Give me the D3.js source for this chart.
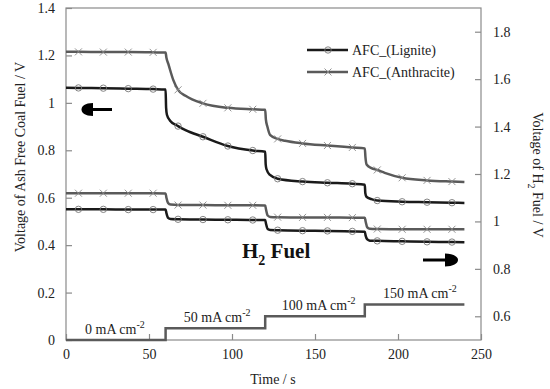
<!DOCTYPE html>
<html><head><meta charset="utf-8">
<script src="https://cdn.jsdelivr.net/npm/d3@7"></script>
<style>body{margin:0;background:#fff}svg{display:block}text{font-family:"Liberation Serif","Times New Roman",serif}</style>
</head><body><svg id="c" width="550" height="389"></svg>
<script>
// ---- data ----
const timeTicks = [0, 50, 100, 150, 200, 250];
const leftTicks = [0, 0.2, 0.4, 0.6, 0.8, 1.0, 1.2, 1.4];
const rightTicks = [0.6, 0.8, 1.0, 1.2, 1.4, 1.6, 1.8];

const afcLigniteT = [0,7.5,22.5,37.5,52.5,60, 60.3,60.8,62.7,67.5,72,82.5,97.5,112.5,120, 120.3,120.8,122.9,127.5,142.5,157.5,172.5,180, 180.3,181,184,187.5,202.5,217.5,232.5,240];
const afcLigniteV = [1.064,1.063,1.062,1.060,1.058,1.056, 0.98,0.95,0.925,0.902,0.885,0.857,0.818,0.799,0.794, 0.74,0.72,0.696,0.68,0.668,0.663,0.659,0.655, 0.62,0.604,0.594,0.588,0.583,0.581,0.579,0.578];

const afcAnthraciteT = [0,7.5,22.5,37.5,52.5,60, 60.5,61.6,64.6,67.5,72,82.5,97.5,112.5,120, 120.4,121.3,122.9,127.5,132,142.5,157.5,172.5,180, 180.4,181.1,184,187.5,192,202.5,217.5,232.5,240];
const afcAnthraciteV = [1.215,1.215,1.214,1.214,1.213,1.212, 1.19,1.165,1.097,1.055,1.03,0.998,0.979,0.973,0.971, 0.93,0.9,0.865,0.848,0.84,0.829,0.820,0.812,0.808, 0.77,0.74,0.725,0.717,0.705,0.684,0.673,0.668,0.666];

const h2T = [0,7.5,22.5,37.5,52.5,60, 60.5,61.5,63,67.5,82.5,97.5,112.5,120, 120.5,121.5,123,127.5,142.5,157.5,172.5,180, 180.5,181.5,183,187.5,202.5,217.5,232.5,240];
const h2AnthraciteV = [1.119,1.119,1.119,1.119,1.119,1.118, 1.10,1.078,1.071,1.069,1.069,1.068,1.068,1.067, 1.05,1.025,1.019,1.018,1.017,1.017,1.016,1.016, 1.0,0.975,0.969,0.968,0.967,0.967,0.967,0.967];
const h2LigniteV = [1.051,1.051,1.051,1.050,1.050,1.050, 1.035,1.015,1.010,1.009,1.008,1.007,1.006,1.006, 0.99,0.968,0.964,0.963,0.961,0.960,0.958,0.957, 0.94,0.924,0.919,0.918,0.916,0.914,0.913,0.912];

const currentT = [0, 60, 60, 120, 120, 180, 180, 240];
const currentV = [0, 0, 0.05, 0.05, 0.10, 0.10, 0.15, 0.15];
const currentLabels = ["0", "50", "100", "150"];
const currentLabelT = [11.5, 71, 130, 191];

const legendNames = ["AFC_(Lignite)", "AFC_(Anthracite)"];

// ---- layout ----
const svg = d3.select("#c");
const L = 66, R = 481, T = 8, B = 340;
const x = d3.scaleLinear().domain([0, 250]).range([L, R]);
const yL = d3.scaleLinear().domain([0, 1.4]).range([B, T]);
const yR = d3.scaleLinear().domain([0.5, 1.9]).range([B, T]);
const axisCol = "#8a8a8a";
const blk = "#1a1a1a", gry = "#5a5a5a";

// frame
svg.append("rect").attr("x", L).attr("y", T).attr("width", R - L).attr("height", B - T)
  .attr("fill", "none").attr("stroke", axisCol).attr("stroke-width", 1.2);

function fmt(d){ return d3.format("~g")(+d.toFixed(1)); }

const gx = svg.append("g").attr("transform", `translate(0,${B})`)
  .call(d3.axisBottom(x).tickValues(timeTicks).tickSize(-6).tickPadding(9).tickFormat(d3.format("d")));
const gl = svg.append("g").attr("transform", `translate(${L},0)`)
  .call(d3.axisLeft(yL).tickValues(leftTicks).tickSize(-6).tickPadding(11).tickFormat(fmt));
const gr = svg.append("g").attr("transform", `translate(${R},0)`)
  .call(d3.axisRight(yR).tickValues(rightTicks).tickSize(-6).tickPadding(12).tickFormat(fmt));
[gx, gl, gr].forEach(g => {
  g.select(".domain").remove();
  g.selectAll(".tick line").attr("stroke", axisCol).attr("stroke-width", 1.2);
  g.selectAll(".tick text").attr("fill", "#222").style("font-size", "14px")
    .style("font-family", '"Liberation Serif","Times New Roman",serif');
});

// current step line
const lineL = d3.line().x(d => x(d[0])).y(d => yL(d[1]));
svg.append("path").datum(currentT.map((t, i) => [t, currentV[i]]))
  .attr("d", lineL).attr("fill", "none").attr("stroke", gry).attr("stroke-width", 2.5);

// current labels
currentLabels.forEach((s, i) => {
  const t = svg.append("text").attr("x", x(currentLabelT[i]))
    .attr("y", yL(currentV[i * 2 + 1]) - 6).style("font-size", "14px").attr("fill", "#222");
  t.append("tspan").text(s + " mA cm");
  t.append("tspan").text("-2").attr("dy", -6).style("font-size", "10px");
});

function series(tArr, vArr, scale, color, marker) {
  const pts = tArr.map((t, i) => [t, vArr[i]]);
  const ln = d3.line().x(d => x(d[0])).y(d => scale(d[1])).curve(d3.curveMonotoneX);
  svg.append("path").datum(pts).attr("d", ln).attr("fill", "none")
    .attr("stroke", color).attr("stroke-width", 2.5).attr("stroke-linejoin", "round");
  const mk = pts.filter(d => Math.abs(((d[0] - 7.5) % 15)) < 1e-6);
  drawMarkers(mk.map(d => [x(d[0]), scale(d[1])]), marker);
}
function drawMarkers(xy, marker) {
  if (marker === "circle") {
    svg.append("g").selectAll("circle").data(xy).join("circle")
      .attr("cx", d => d[0]).attr("cy", d => d[1]).attr("r", 3.2)
      .attr("fill", "none").attr("stroke", "#777").attr("stroke-width", 0.9);
  } else {
    svg.append("g").selectAll("path").data(xy).join("path")
      .attr("d", d => `M${d[0]-3.5},${d[1]-3.5}L${d[0]+3.5},${d[1]+3.5}M${d[0]-3.5},${d[1]+3.5}L${d[0]+3.5},${d[1]-3.5}`)
      .attr("stroke", "#888").attr("stroke-width", 0.9);
  }
}

series(afcAnthraciteT, afcAnthraciteV, yL, gry, "x");
series(afcLigniteT, afcLigniteV, yL, blk, "circle");
series(h2T, h2AnthraciteV, yR, gry, "x");
series(h2T, h2LigniteV, yR, blk, "circle");

// legend
const legY = [50, 72];
const legCol = [blk, gry];
const legMk = ["circle", "x"];
legendNames.forEach((n, i) => {
  svg.append("line").attr("x1", 307).attr("x2", 348).attr("y1", legY[i]).attr("y2", legY[i])
    .attr("stroke", legCol[i]).attr("stroke-width", 2.5);
  drawMarkers([[328, legY[i]]], legMk[i]);
  svg.append("text").attr("x", 352).attr("y", legY[i] + 5).text(n)
    .style("font-size", "14px").attr("fill", "#222");
});

// arrows
svg.append("line").attr("x1", 90).attr("x2", 112).attr("y1", 109.5).attr("y2", 109.5)
  .attr("stroke", "#000").attr("stroke-width", 3);
svg.append("path").attr("d", "M93,103 C85,103 81.5,106 81.5,109.5 C81.5,113 85,116 93,116 Z").attr("fill", "#000");
svg.append("line").attr("x1", 423).attr("x2", 447).attr("y1", 260).attr("y2", 260)
  .attr("stroke", "#000").attr("stroke-width", 3);
svg.append("path").attr("d", "M445,253.5 C453,253.5 458,256.5 458,260 C458,263.5 453,266.5 445,266.5 Z").attr("fill", "#000");

// H2 Fuel label
const h2 = svg.append("text").attr("x", 242).attr("y", 258).style("font-size", "21px")
  .style("font-weight", "bold").attr("fill", "#111");
h2.append("tspan").text("H");
h2.append("tspan").text("2").attr("dy", 7).style("font-size", "14px");
h2.append("tspan").text(" Fuel").attr("dy", -7);

// axis titles
svg.append("text").attr("x", 273).attr("y", 384).attr("text-anchor", "middle")
  .style("font-size", "14px").attr("fill", "#222").text("Time / s");
svg.append("text").attr("transform", "translate(25,157) rotate(-90)").attr("text-anchor", "middle")
  .style("font-size", "14px").attr("fill", "#222").text("Voltage of Ash Free Coal Fuel / V");
const rt = svg.append("text").attr("transform", "translate(533,175) rotate(90)").attr("text-anchor", "middle")
  .style("font-size", "14px").attr("fill", "#222");
rt.append("tspan").text("Voltage of H");
rt.append("tspan").text("2").attr("dy", 5).style("font-size", "10px");
rt.append("tspan").text(" Fuel / V").attr("dy", -5);
</script></body></html>
